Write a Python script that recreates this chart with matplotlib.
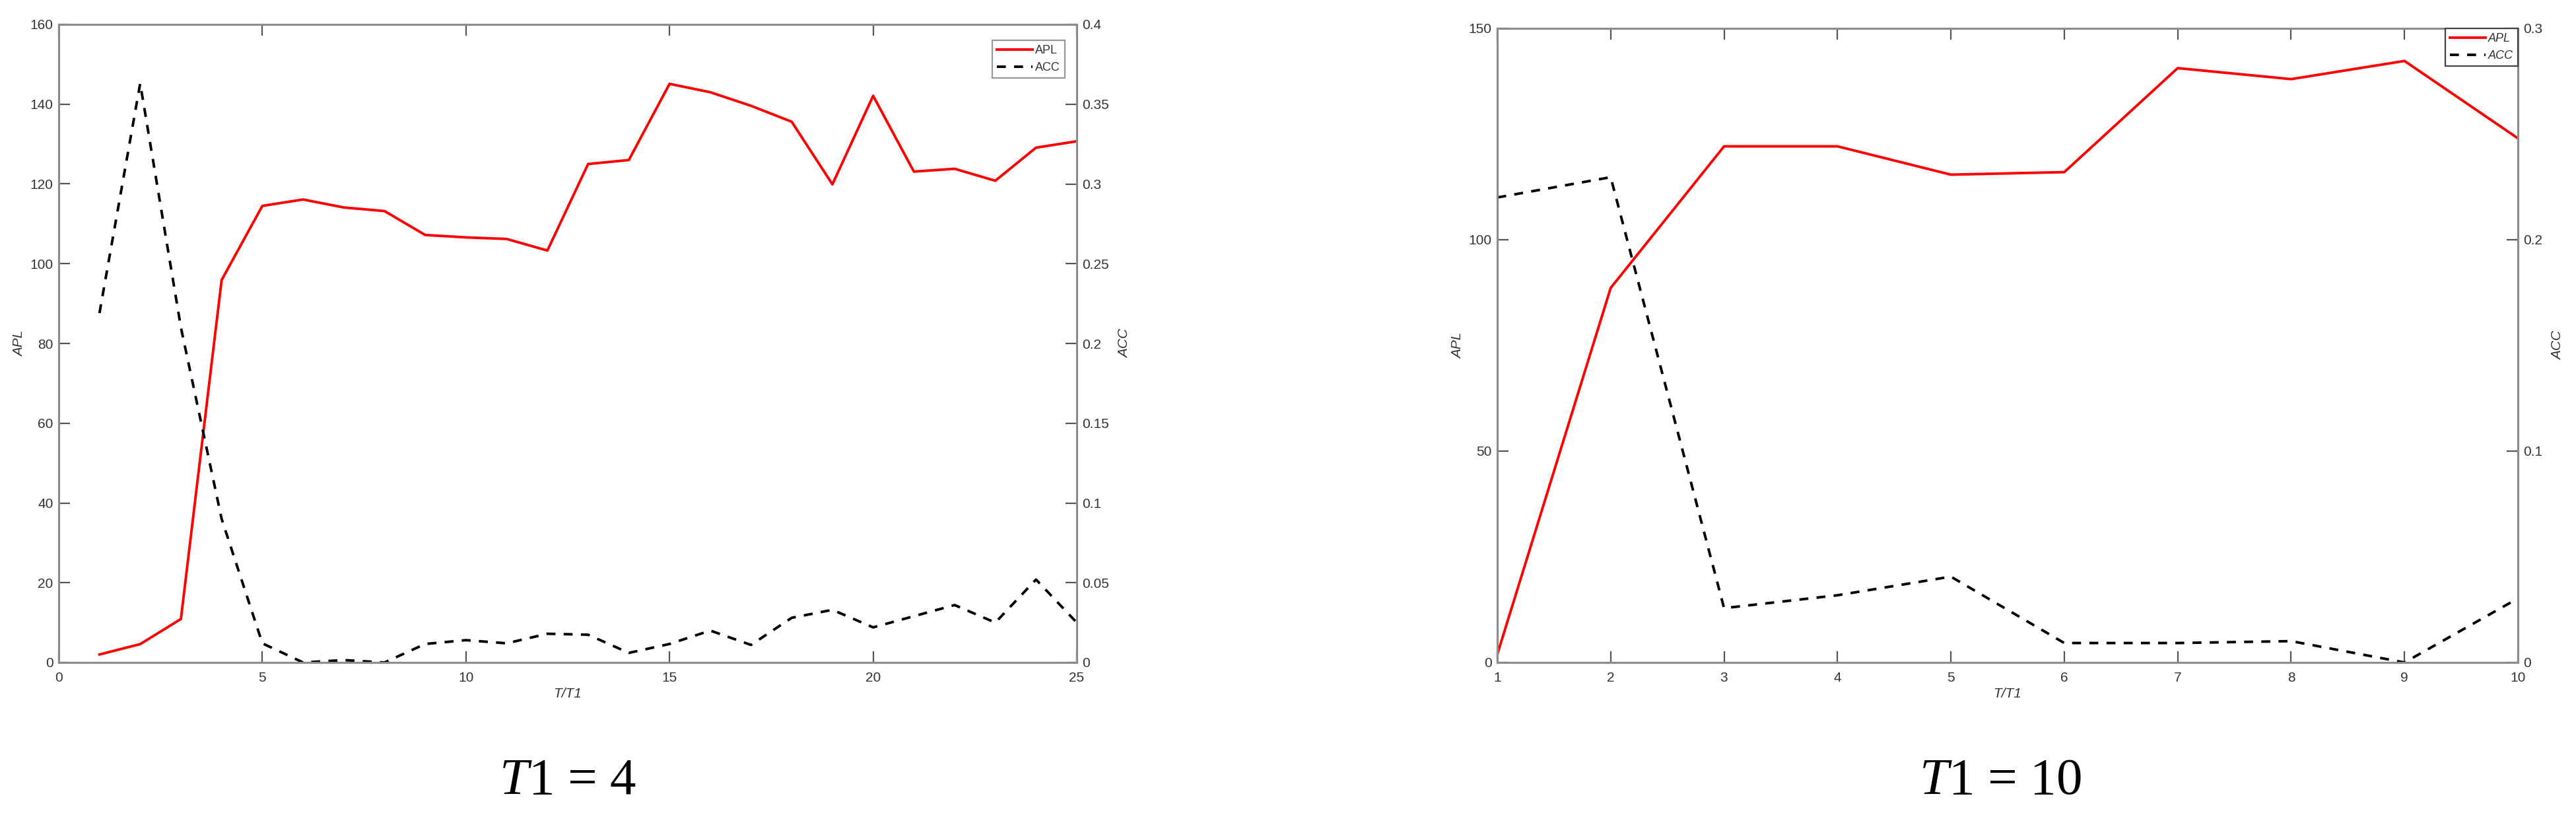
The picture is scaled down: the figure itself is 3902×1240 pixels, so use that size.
import matplotlib
matplotlib.use('Agg')
import matplotlib.pyplot as plt
from matplotlib.ticker import FormatStrFormatter

# T1 = 4 panel
t_left = list(range(1, 26))
apl_left = [2.0, 4.6, 10.9, 95.9, 114.5, 116.1, 114.1, 113.2, 107.2, 106.6,
            106.2, 103.3, 125.0, 126.0, 145.1, 143.0, 139.6, 135.6, 119.9, 142.1,
            123.1, 123.8, 120.8, 129.1, 130.7]
acc_left = [0.219, 0.363, 0.210, 0.090, 0.012, 0.000, 0.0015, 0.000, 0.0116, 0.014,
            0.012, 0.018, 0.0174, 0.006, 0.0116, 0.020, 0.011, 0.028, 0.033, 0.022,
            0.029, 0.036, 0.025, 0.052, 0.025]

# T1 = 10 panel
t_right = list(range(1, 11))
apl_right = [1.9, 88.6, 122.1, 122.1, 115.4, 116.0, 140.6, 138.0, 142.3, 124.0]
acc_right = [0.220, 0.2296, 0.0257, 0.0318, 0.0406, 0.0092, 0.0092, 0.0101, 0.0, 0.0303]

left_xticks = [0, 5, 10, 15, 20, 25]
left_aplticks = [0, 20, 40, 60, 80, 100, 120, 140, 160]
left_accticks = [0, 0.05, 0.1, 0.15, 0.2, 0.25, 0.3, 0.35, 0.4]
right_xticks = list(range(1, 11))
right_aplticks = [0, 50, 100, 150]
right_accticks = [0, 0.1, 0.2, 0.3]

captions = ['1 = 4', '1 = 10']

plt.rcParams['font.family'] = ['Liberation Sans', 'DejaVu Sans']
plt.rcParams['mathtext.fontset'] = 'custom'
plt.rcParams['mathtext.it'] = 'Liberation Serif:italic'
plt.rcParams['mathtext.rm'] = 'Liberation Serif'

SPINE = '#8c8c8c'
TICKC = '#555555'
LABELC = '#333333'
W, H = 3902, 1240


def draw_panel(rect, t, apl, acc, xlim, xticks, apl_lim, apl_ticks, acc_lim, acc_ticks,
               legend_anchor, legend_italic, legend_edge):
    ax = fig.add_axes(rect)
    ax2 = ax.twinx()

    l1, = ax.plot(t, apl, color='#ff0000', lw=2.8, label='APL')
    l2, = ax2.plot(t, acc, color='black', lw=2.8, linestyle=(0, (3.5, 3.2)), label='ACC')

    ax.set_xlim(*xlim)
    ax.set_ylim(*apl_lim)
    ax2.set_ylim(*acc_lim)
    ax.set_xticks(xticks)
    ax.set_yticks(apl_ticks)
    ax2.set_yticks(acc_ticks)
    ax2.yaxis.set_major_formatter(FormatStrFormatter('%g'))

    for a in (ax, ax2):
        for s in a.spines.values():
            s.set_color(SPINE)
            s.set_linewidth(2.2)
    ax.tick_params(axis='x', direction='in', top=True, bottom=True, length=12, width=1.6,
                   color=TICKC, labelcolor=LABELC, labelsize=15, pad=10)
    ax.tick_params(axis='y', direction='in', left=True, right=False, length=12, width=1.6,
                   color=TICKC, labelcolor=LABELC, labelsize=15, pad=6)
    ax2.tick_params(axis='y', direction='in', right=True, left=False, length=12, width=1.6,
                    color=TICKC, labelcolor=LABELC, labelsize=15, pad=6)

    ax.set_xlabel('T/T1', fontsize=15, style='italic', color=LABELC, labelpad=4)
    ax.set_ylabel('APL', fontsize=15, style='italic', color=LABELC, labelpad=5)
    ax2.set_ylabel('ACC', fontsize=15, style='italic', color=LABELC, labelpad=10)

    leg = ax2.legend(handles=[l1, l2], loc='upper right', bbox_to_anchor=legend_anchor,
                     borderaxespad=0, fontsize=13, handlelength=3.0, handletextpad=0.2,
                     labelspacing=0.5, borderpad=0.4, fancybox=False, framealpha=1,
                     edgecolor=legend_edge)
    leg.get_frame().set_linewidth(1.6)
    for txt in leg.get_texts():
        txt.set_color(LABELC)
        if legend_italic:
            txt.set_style('italic')
    return ax, ax2


fig = plt.figure(figsize=(W / 100, H / 100), dpi=100)

draw_panel([89 / W, (H - 1003) / H, 1542 / W, 966 / H],
           t_left, apl_left, acc_left, (0, 25), left_xticks,
           (0, 160), left_aplticks, (0, 0.4), left_accticks,
           (1 - 18 / 1542, 1 - 24 / 966), False, '#999999')

draw_panel([2268 / W, (H - 1003) / H, 1546 / W, 960 / H],
           t_right, apl_right, acc_right, (1, 10), right_xticks,
           (0, 150), right_aplticks, (0, 0.3), right_accticks,
           (1, 1), True, '#444444')

fig.text(860 / W, 38 / H, r'$T$' + captions[0], fontsize=57, family='Liberation Serif',
         ha='center', va='baseline', color='black')
fig.text(3030 / W, 38 / H, r'$T$' + captions[1], fontsize=57, family='Liberation Serif',
         ha='center', va='baseline', color='black')

fig.savefig('out.png', dpi=100)
